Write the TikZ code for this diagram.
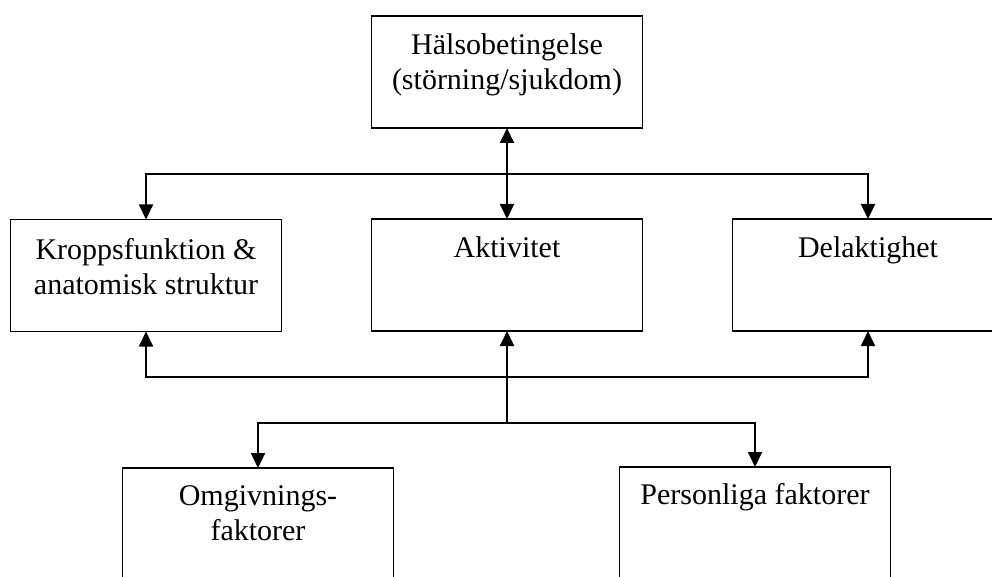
\documentclass[tikz,border=0pt]{standalone}
\usepackage{fontspec}
\setmainfont{Liberation Serif}
\usetikzlibrary{arrows.meta,positioning}

\begin{document}
\begin{tikzpicture}[
x=1pt, y=-1pt,
  node distance=0pt,
    box/.style = {rectangle, draw, line width=1.8pt,% frames of the components
                  minimum width=271pt, minimum height=112pt,
                  inner sep=0pt, outer sep=0pt},
    txt/.style = {align=center, inner sep=0pt,% text at the top of a frame
                  font=\fontsize{30}{35}\selectfont},
    arr/.style = {line width=1.8pt, -{Triangle[width=14pt,length=15pt]}},
   arrs/.style = {line width=1.8pt, {Triangle[width=14pt,length=15pt]}-{Triangle[width=14pt,length=15pt]}},
    lin/.style = {line width=1.8pt},
                        ]
\useasboundingbox (0,0) rectangle (992,577);
\clip (0,0) rectangle (992,577);
% frames
\node[box] (hals)  at (507,72)    {};
\node[box] (kropp) at (146,275.5) {};
\node[box] (akt)   at (507,275)   {};
\node[box] (del)   at (868,275)   {};
\node[box] (omg)   at (258,524)   {};
\node[box] (pers)  at (755,523)   {};
% texts
\node[txt, below=17pt of hals.north]  (hals-t)  {Hälsobetingelse\\(störning/sjukdom)};
\node[txt, below=19pt of kropp.north] (kropp-t) {Kroppsfunktion \&\\anatomisk struktur};
\node[txt, below=17pt of akt.north]   (akt-t)   {Aktivitet};
\node[txt, below=17pt of del.north]   (del-t)   {Delaktighet};
\node[txt, below=17pt of omg.north]   (omg-t)   {Omgivnings-\\faktorer};
\node[txt, below=16pt of pers.north]  (pers-t)  {Personliga faktorer};
% connectors
\coordinate (top) at (507,174);
\coordinate (mid) at (507,377);
\coordinate (low) at (507,423);
\draw[arrs] (hals) -- (akt);
\draw[arr] (top) -| (kropp.north);
\draw[arr] (top) -| (del.north);
\draw[arr] (mid) -- (akt.south);
\draw[arr] (mid) -| (kropp.south);
\draw[arr] (mid) -| (del.south);
\draw[lin] (mid) -- (low);
\draw[arr] (low) -| (omg.north);
\draw[arr] (low) -| (pers.north);
\end{tikzpicture}
\end{document}
